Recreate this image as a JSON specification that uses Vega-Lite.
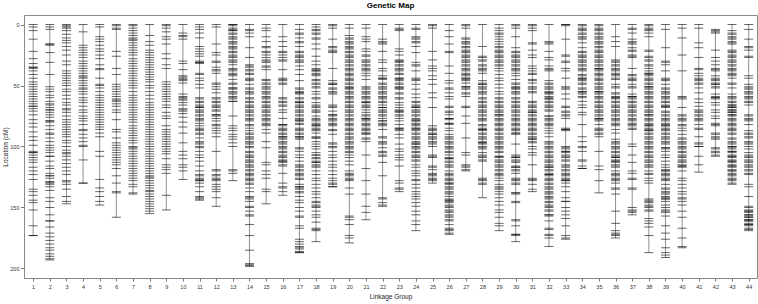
{
"$schema":"https://vega.github.io/schema/vega-lite/v6.json",
"width":733,"height":263,
"autosize":"none",
"padding":{"left":24,"top":15,"right":1,"bottom":26},
"title":{"text":"Genetic Map","fontSize":8,"fontWeight":"bold","font":"Liberation Sans","color":"#000","offset":5},
"data":{"values":[
{"g":1,"c":0},{"g":1,"c":2},{"g":1,"c":5},{"g":1,"c":12},{"g":1,"c":22},{"g":1,"c":28},{"g":1,"c":32},{"g":1,"c":35},{"g":1,"c":35},{"g":1,"c":36},{"g":1,"c":38},{"g":1,"c":41},{"g":1,"c":44},{"g":1,"c":47},{"g":1,"c":49},{"g":1,"c":51},{"g":1,"c":53},{"g":1,"c":55},{"g":1,"c":57},{"g":1,"c":59},{"g":1,"c":61},{"g":1,"c":63},{"g":1,"c":65},{"g":1,"c":67},{"g":1,"c":67},{"g":1,"c":69},{"g":1,"c":71},{"g":1,"c":74},{"g":1,"c":78},{"g":1,"c":81},{"g":1,"c":84},{"g":1,"c":88},{"g":1,"c":92},{"g":1,"c":95},{"g":1,"c":99},{"g":1,"c":104},{"g":1,"c":105},{"g":1,"c":105},{"g":1,"c":107},{"g":1,"c":109},{"g":1,"c":111},{"g":1,"c":113},{"g":1,"c":117},{"g":1,"c":120},{"g":1,"c":123},{"g":1,"c":127},{"g":1,"c":135},{"g":1,"c":137},{"g":1,"c":140},{"g":1,"c":144},{"g":1,"c":146},{"g":1,"c":152},{"g":1,"c":165},{"g":1,"c":173},{"g":1,"c":173},
{"g":2,"c":0},{"g":2,"c":2},{"g":2,"c":4},{"g":2,"c":16},{"g":2,"c":16},{"g":2,"c":17},{"g":2,"c":23},{"g":2,"c":31},{"g":2,"c":41},{"g":2,"c":51},{"g":2,"c":53},{"g":2,"c":55},{"g":2,"c":58},{"g":2,"c":60},{"g":2,"c":63},{"g":2,"c":65},{"g":2,"c":66},{"g":2,"c":68},{"g":2,"c":70},{"g":2,"c":70},{"g":2,"c":72},{"g":2,"c":74},{"g":2,"c":76},{"g":2,"c":79},{"g":2,"c":79},{"g":2,"c":80},{"g":2,"c":83},{"g":2,"c":86},{"g":2,"c":89},{"g":2,"c":90},{"g":2,"c":93},{"g":2,"c":96},{"g":2,"c":99},{"g":2,"c":101},{"g":2,"c":103},{"g":2,"c":105},{"g":2,"c":108},{"g":2,"c":108},{"g":2,"c":112},{"g":2,"c":116},{"g":2,"c":118},{"g":2,"c":122},{"g":2,"c":124},{"g":2,"c":124},{"g":2,"c":126},{"g":2,"c":129},{"g":2,"c":129},{"g":2,"c":130},{"g":2,"c":131},{"g":2,"c":133},{"g":2,"c":136},{"g":2,"c":142},{"g":2,"c":145},{"g":2,"c":150},{"g":2,"c":156},{"g":2,"c":161},{"g":2,"c":161},{"g":2,"c":166},{"g":2,"c":171},{"g":2,"c":174},{"g":2,"c":177},{"g":2,"c":180},{"g":2,"c":183},{"g":2,"c":185},{"g":2,"c":188},{"g":2,"c":190},{"g":2,"c":192},{"g":2,"c":193},
{"g":3,"c":0},{"g":3,"c":1},{"g":3,"c":2},{"g":3,"c":3},{"g":3,"c":5},{"g":3,"c":8},{"g":3,"c":11},{"g":3,"c":13},{"g":3,"c":15},{"g":3,"c":18},{"g":3,"c":21},{"g":3,"c":25},{"g":3,"c":30},{"g":3,"c":33},{"g":3,"c":38},{"g":3,"c":40},{"g":3,"c":42},{"g":3,"c":44},{"g":3,"c":46},{"g":3,"c":48},{"g":3,"c":50},{"g":3,"c":53},{"g":3,"c":55},{"g":3,"c":58},{"g":3,"c":61},{"g":3,"c":64},{"g":3,"c":66},{"g":3,"c":69},{"g":3,"c":70},{"g":3,"c":72},{"g":3,"c":75},{"g":3,"c":78},{"g":3,"c":80},{"g":3,"c":82},{"g":3,"c":84},{"g":3,"c":86},{"g":3,"c":88},{"g":3,"c":90},{"g":3,"c":92},{"g":3,"c":95},{"g":3,"c":97},{"g":3,"c":100},{"g":3,"c":103},{"g":3,"c":105},{"g":3,"c":106},{"g":3,"c":108},{"g":3,"c":111},{"g":3,"c":114},{"g":3,"c":117},{"g":3,"c":120},{"g":3,"c":123},{"g":3,"c":128},{"g":3,"c":129},{"g":3,"c":131},{"g":3,"c":135},{"g":3,"c":141},{"g":3,"c":145},{"g":3,"c":147},
{"g":4,"c":0},{"g":4,"c":6},{"g":4,"c":17},{"g":4,"c":19},{"g":4,"c":21},{"g":4,"c":23},{"g":4,"c":25},{"g":4,"c":27},{"g":4,"c":30},{"g":4,"c":32},{"g":4,"c":34},{"g":4,"c":36},{"g":4,"c":38},{"g":4,"c":40},{"g":4,"c":42},{"g":4,"c":43},{"g":4,"c":44},{"g":4,"c":46},{"g":4,"c":48},{"g":4,"c":50},{"g":4,"c":52},{"g":4,"c":53},{"g":4,"c":55},{"g":4,"c":57},{"g":4,"c":60},{"g":4,"c":62},{"g":4,"c":64},{"g":4,"c":67},{"g":4,"c":70},{"g":4,"c":72},{"g":4,"c":75},{"g":4,"c":77},{"g":4,"c":79},{"g":4,"c":82},{"g":4,"c":86},{"g":4,"c":87},{"g":4,"c":90},{"g":4,"c":93},{"g":4,"c":96},{"g":4,"c":99},{"g":4,"c":100},{"g":4,"c":111},{"g":4,"c":130},{"g":4,"c":130},
{"g":5,"c":0},{"g":5,"c":2},{"g":5,"c":10},{"g":5,"c":12},{"g":5,"c":14},{"g":5,"c":17},{"g":5,"c":20},{"g":5,"c":22},{"g":5,"c":25},{"g":5,"c":28},{"g":5,"c":33},{"g":5,"c":36},{"g":5,"c":37},{"g":5,"c":44},{"g":5,"c":49},{"g":5,"c":50},{"g":5,"c":52},{"g":5,"c":55},{"g":5,"c":58},{"g":5,"c":60},{"g":5,"c":62},{"g":5,"c":64},{"g":5,"c":66},{"g":5,"c":68},{"g":5,"c":70},{"g":5,"c":72},{"g":5,"c":74},{"g":5,"c":76},{"g":5,"c":78},{"g":5,"c":80},{"g":5,"c":82},{"g":5,"c":84},{"g":5,"c":86},{"g":5,"c":89},{"g":5,"c":92},{"g":5,"c":104},{"g":5,"c":108},{"g":5,"c":127},{"g":5,"c":134},{"g":5,"c":137},{"g":5,"c":141},{"g":5,"c":145},{"g":5,"c":148},
{"g":6,"c":0},{"g":6,"c":1},{"g":6,"c":3},{"g":6,"c":4},{"g":6,"c":22},{"g":6,"c":26},{"g":6,"c":36},{"g":6,"c":41},{"g":6,"c":49},{"g":6,"c":51},{"g":6,"c":53},{"g":6,"c":55},{"g":6,"c":57},{"g":6,"c":59},{"g":6,"c":61},{"g":6,"c":62},{"g":6,"c":63},{"g":6,"c":65},{"g":6,"c":67},{"g":6,"c":70},{"g":6,"c":72},{"g":6,"c":78},{"g":6,"c":86},{"g":6,"c":88},{"g":6,"c":93},{"g":6,"c":97},{"g":6,"c":99},{"g":6,"c":101},{"g":6,"c":103},{"g":6,"c":105},{"g":6,"c":107},{"g":6,"c":109},{"g":6,"c":111},{"g":6,"c":113},{"g":6,"c":115},{"g":6,"c":118},{"g":6,"c":124},{"g":6,"c":130},{"g":6,"c":137},{"g":6,"c":138},{"g":6,"c":158},
{"g":7,"c":0},{"g":7,"c":1},{"g":7,"c":3},{"g":7,"c":5},{"g":7,"c":7},{"g":7,"c":9},{"g":7,"c":11},{"g":7,"c":12},{"g":7,"c":13},{"g":7,"c":15},{"g":7,"c":17},{"g":7,"c":19},{"g":7,"c":21},{"g":7,"c":23},{"g":7,"c":25},{"g":7,"c":28},{"g":7,"c":30},{"g":7,"c":32},{"g":7,"c":34},{"g":7,"c":36},{"g":7,"c":38},{"g":7,"c":40},{"g":7,"c":42},{"g":7,"c":44},{"g":7,"c":46},{"g":7,"c":48},{"g":7,"c":50},{"g":7,"c":52},{"g":7,"c":55},{"g":7,"c":58},{"g":7,"c":60},{"g":7,"c":62},{"g":7,"c":64},{"g":7,"c":66},{"g":7,"c":68},{"g":7,"c":70},{"g":7,"c":72},{"g":7,"c":74},{"g":7,"c":76},{"g":7,"c":78},{"g":7,"c":80},{"g":7,"c":83},{"g":7,"c":85},{"g":7,"c":87},{"g":7,"c":89},{"g":7,"c":91},{"g":7,"c":93},{"g":7,"c":95},{"g":7,"c":97},{"g":7,"c":100},{"g":7,"c":101},{"g":7,"c":102},{"g":7,"c":104},{"g":7,"c":106},{"g":7,"c":108},{"g":7,"c":110},{"g":7,"c":112},{"g":7,"c":114},{"g":7,"c":116},{"g":7,"c":118},{"g":7,"c":120},{"g":7,"c":122},{"g":7,"c":124},{"g":7,"c":126},{"g":7,"c":128},{"g":7,"c":131},{"g":7,"c":133},{"g":7,"c":138},{"g":7,"c":139},
{"g":8,"c":0},{"g":8,"c":9},{"g":8,"c":14},{"g":8,"c":17},{"g":8,"c":21},{"g":8,"c":23},{"g":8,"c":25},{"g":8,"c":27},{"g":8,"c":29},{"g":8,"c":31},{"g":8,"c":33},{"g":8,"c":35},{"g":8,"c":37},{"g":8,"c":39},{"g":8,"c":41},{"g":8,"c":43},{"g":8,"c":45},{"g":8,"c":47},{"g":8,"c":50},{"g":8,"c":52},{"g":8,"c":55},{"g":8,"c":58},{"g":8,"c":61},{"g":8,"c":64},{"g":8,"c":66},{"g":8,"c":68},{"g":8,"c":70},{"g":8,"c":72},{"g":8,"c":74},{"g":8,"c":76},{"g":8,"c":78},{"g":8,"c":80},{"g":8,"c":82},{"g":8,"c":84},{"g":8,"c":86},{"g":8,"c":88},{"g":8,"c":90},{"g":8,"c":92},{"g":8,"c":94},{"g":8,"c":96},{"g":8,"c":98},{"g":8,"c":100},{"g":8,"c":102},{"g":8,"c":104},{"g":8,"c":106},{"g":8,"c":108},{"g":8,"c":110},{"g":8,"c":112},{"g":8,"c":114},{"g":8,"c":116},{"g":8,"c":118},{"g":8,"c":120},{"g":8,"c":122},{"g":8,"c":124},{"g":8,"c":125},{"g":8,"c":126},{"g":8,"c":128},{"g":8,"c":130},{"g":8,"c":132},{"g":8,"c":134},{"g":8,"c":136},{"g":8,"c":137},{"g":8,"c":139},{"g":8,"c":141},{"g":8,"c":143},{"g":8,"c":145},{"g":8,"c":147},{"g":8,"c":149},{"g":8,"c":151},{"g":8,"c":153},{"g":8,"c":155},
{"g":9,"c":0},{"g":9,"c":1},{"g":9,"c":3},{"g":9,"c":6},{"g":9,"c":10},{"g":9,"c":12},{"g":9,"c":16},{"g":9,"c":24},{"g":9,"c":28},{"g":9,"c":33},{"g":9,"c":36},{"g":9,"c":47},{"g":9,"c":49},{"g":9,"c":51},{"g":9,"c":53},{"g":9,"c":55},{"g":9,"c":57},{"g":9,"c":59},{"g":9,"c":61},{"g":9,"c":63},{"g":9,"c":66},{"g":9,"c":68},{"g":9,"c":72},{"g":9,"c":75},{"g":9,"c":77},{"g":9,"c":83},{"g":9,"c":86},{"g":9,"c":88},{"g":9,"c":90},{"g":9,"c":92},{"g":9,"c":94},{"g":9,"c":96},{"g":9,"c":98},{"g":9,"c":100},{"g":9,"c":102},{"g":9,"c":104},{"g":9,"c":106},{"g":9,"c":110},{"g":9,"c":115},{"g":9,"c":117},{"g":9,"c":119},{"g":9,"c":122},{"g":9,"c":140},{"g":9,"c":152},
{"g":10,"c":0},{"g":10,"c":7},{"g":10,"c":9},{"g":10,"c":10},{"g":10,"c":12},{"g":10,"c":30},{"g":10,"c":32},{"g":10,"c":37},{"g":10,"c":42},{"g":10,"c":43},{"g":10,"c":44},{"g":10,"c":45},{"g":10,"c":46},{"g":10,"c":48},{"g":10,"c":57},{"g":10,"c":59},{"g":10,"c":60},{"g":10,"c":61},{"g":10,"c":62},{"g":10,"c":64},{"g":10,"c":66},{"g":10,"c":69},{"g":10,"c":70},{"g":10,"c":71},{"g":10,"c":73},{"g":10,"c":76},{"g":10,"c":80},{"g":10,"c":84},{"g":10,"c":89},{"g":10,"c":97},{"g":10,"c":104},{"g":10,"c":107},{"g":10,"c":110},{"g":10,"c":115},{"g":10,"c":117},{"g":10,"c":120},{"g":10,"c":127},
{"g":11,"c":0},{"g":11,"c":2},{"g":11,"c":4},{"g":11,"c":7},{"g":11,"c":11},{"g":11,"c":18},{"g":11,"c":20},{"g":11,"c":22},{"g":11,"c":24},{"g":11,"c":26},{"g":11,"c":30},{"g":11,"c":31},{"g":11,"c":31},{"g":11,"c":32},{"g":11,"c":40},{"g":11,"c":41},{"g":11,"c":44},{"g":11,"c":46},{"g":11,"c":49},{"g":11,"c":52},{"g":11,"c":60},{"g":11,"c":61},{"g":11,"c":63},{"g":11,"c":64},{"g":11,"c":66},{"g":11,"c":67},{"g":11,"c":68},{"g":11,"c":68},{"g":11,"c":70},{"g":11,"c":71},{"g":11,"c":72},{"g":11,"c":74},{"g":11,"c":75},{"g":11,"c":77},{"g":11,"c":78},{"g":11,"c":79},{"g":11,"c":81},{"g":11,"c":83},{"g":11,"c":85},{"g":11,"c":86},{"g":11,"c":87},{"g":11,"c":89},{"g":11,"c":90},{"g":11,"c":93},{"g":11,"c":96},{"g":11,"c":97},{"g":11,"c":98},{"g":11,"c":100},{"g":11,"c":101},{"g":11,"c":104},{"g":11,"c":107},{"g":11,"c":109},{"g":11,"c":112},{"g":11,"c":116},{"g":11,"c":120},{"g":11,"c":123},{"g":11,"c":124},{"g":11,"c":126},{"g":11,"c":127},{"g":11,"c":128},{"g":11,"c":128},{"g":11,"c":130},{"g":11,"c":133},{"g":11,"c":137},{"g":11,"c":141},{"g":11,"c":142},{"g":11,"c":143},{"g":11,"c":144},
{"g":12,"c":0},{"g":12,"c":2},{"g":12,"c":16},{"g":12,"c":23},{"g":12,"c":25},{"g":12,"c":30},{"g":12,"c":31},{"g":12,"c":35},{"g":12,"c":37},{"g":12,"c":38},{"g":12,"c":40},{"g":12,"c":48},{"g":12,"c":49},{"g":12,"c":51},{"g":12,"c":53},{"g":12,"c":56},{"g":12,"c":60},{"g":12,"c":61},{"g":12,"c":63},{"g":12,"c":64},{"g":12,"c":66},{"g":12,"c":67},{"g":12,"c":68},{"g":12,"c":70},{"g":12,"c":71},{"g":12,"c":74},{"g":12,"c":74},{"g":12,"c":75},{"g":12,"c":77},{"g":12,"c":79},{"g":12,"c":82},{"g":12,"c":83},{"g":12,"c":85},{"g":12,"c":87},{"g":12,"c":89},{"g":12,"c":92},{"g":12,"c":104},{"g":12,"c":119},{"g":12,"c":120},{"g":12,"c":123},{"g":12,"c":124},{"g":12,"c":126},{"g":12,"c":127},{"g":12,"c":128},{"g":12,"c":131},{"g":12,"c":133},{"g":12,"c":135},{"g":12,"c":137},{"g":12,"c":142},{"g":12,"c":149},
{"g":13,"c":0},{"g":13,"c":0},{"g":13,"c":1},{"g":13,"c":3},{"g":13,"c":4},{"g":13,"c":5},{"g":13,"c":5},{"g":13,"c":7},{"g":13,"c":8},{"g":13,"c":10},{"g":13,"c":11},{"g":13,"c":12},{"g":13,"c":14},{"g":13,"c":15},{"g":13,"c":16},{"g":13,"c":18},{"g":13,"c":19},{"g":13,"c":20},{"g":13,"c":22},{"g":13,"c":23},{"g":13,"c":25},{"g":13,"c":26},{"g":13,"c":27},{"g":13,"c":29},{"g":13,"c":30},{"g":13,"c":31},{"g":13,"c":33},{"g":13,"c":36},{"g":13,"c":37},{"g":13,"c":38},{"g":13,"c":40},{"g":13,"c":41},{"g":13,"c":42},{"g":13,"c":45},{"g":13,"c":48},{"g":13,"c":49},{"g":13,"c":52},{"g":13,"c":52},{"g":13,"c":53},{"g":13,"c":55},{"g":13,"c":56},{"g":13,"c":57},{"g":13,"c":59},{"g":13,"c":60},{"g":13,"c":61},{"g":13,"c":63},{"g":13,"c":63},{"g":13,"c":75},{"g":13,"c":83},{"g":13,"c":85},{"g":13,"c":87},{"g":13,"c":90},{"g":13,"c":92},{"g":13,"c":94},{"g":13,"c":97},{"g":13,"c":100},{"g":13,"c":119},{"g":13,"c":120},{"g":13,"c":122},{"g":13,"c":128},
{"g":14,"c":0},{"g":14,"c":4},{"g":14,"c":5},{"g":14,"c":7},{"g":14,"c":10},{"g":14,"c":19},{"g":14,"c":27},{"g":14,"c":33},{"g":14,"c":34},{"g":14,"c":35},{"g":14,"c":37},{"g":14,"c":38},{"g":14,"c":40},{"g":14,"c":41},{"g":14,"c":44},{"g":14,"c":45},{"g":14,"c":46},{"g":14,"c":49},{"g":14,"c":52},{"g":14,"c":53},{"g":14,"c":55},{"g":14,"c":56},{"g":14,"c":57},{"g":14,"c":60},{"g":14,"c":61},{"g":14,"c":63},{"g":14,"c":64},{"g":14,"c":66},{"g":14,"c":67},{"g":14,"c":68},{"g":14,"c":70},{"g":14,"c":71},{"g":14,"c":72},{"g":14,"c":74},{"g":14,"c":75},{"g":14,"c":77},{"g":14,"c":78},{"g":14,"c":79},{"g":14,"c":82},{"g":14,"c":83},{"g":14,"c":85},{"g":14,"c":87},{"g":14,"c":89},{"g":14,"c":90},{"g":14,"c":92},{"g":14,"c":93},{"g":14,"c":94},{"g":14,"c":96},{"g":14,"c":97},{"g":14,"c":98},{"g":14,"c":100},{"g":14,"c":101},{"g":14,"c":104},{"g":14,"c":105},{"g":14,"c":107},{"g":14,"c":108},{"g":14,"c":109},{"g":14,"c":111},{"g":14,"c":112},{"g":14,"c":113},{"g":14,"c":115},{"g":14,"c":116},{"g":14,"c":117},{"g":14,"c":119},{"g":14,"c":120},{"g":14,"c":122},{"g":14,"c":123},{"g":14,"c":124},{"g":14,"c":126},{"g":14,"c":127},{"g":14,"c":128},{"g":14,"c":130},{"g":14,"c":131},{"g":14,"c":134},{"g":14,"c":137},{"g":14,"c":141},{"g":14,"c":142},{"g":14,"c":143},{"g":14,"c":145},{"g":14,"c":149},{"g":14,"c":150},{"g":14,"c":153},{"g":14,"c":156},{"g":14,"c":157},{"g":14,"c":164},{"g":14,"c":173},{"g":14,"c":185},{"g":14,"c":196},{"g":14,"c":197},{"g":14,"c":198},{"g":14,"c":198},
{"g":15,"c":0},{"g":15,"c":3},{"g":15,"c":5},{"g":15,"c":10},{"g":15,"c":14},{"g":15,"c":18},{"g":15,"c":19},{"g":15,"c":22},{"g":15,"c":23},{"g":15,"c":25},{"g":15,"c":27},{"g":15,"c":29},{"g":15,"c":30},{"g":15,"c":31},{"g":15,"c":34},{"g":15,"c":35},{"g":15,"c":37},{"g":15,"c":45},{"g":15,"c":46},{"g":15,"c":48},{"g":15,"c":49},{"g":15,"c":51},{"g":15,"c":52},{"g":15,"c":53},{"g":15,"c":55},{"g":15,"c":56},{"g":15,"c":57},{"g":15,"c":59},{"g":15,"c":60},{"g":15,"c":61},{"g":15,"c":63},{"g":15,"c":64},{"g":15,"c":66},{"g":15,"c":67},{"g":15,"c":68},{"g":15,"c":70},{"g":15,"c":71},{"g":15,"c":72},{"g":15,"c":74},{"g":15,"c":75},{"g":15,"c":77},{"g":15,"c":78},{"g":15,"c":79},{"g":15,"c":81},{"g":15,"c":82},{"g":15,"c":83},{"g":15,"c":86},{"g":15,"c":89},{"g":15,"c":96},{"g":15,"c":101},{"g":15,"c":113},{"g":15,"c":115},{"g":15,"c":120},{"g":15,"c":123},{"g":15,"c":126},{"g":15,"c":135},{"g":15,"c":137},{"g":15,"c":147},
{"g":16,"c":0},{"g":16,"c":10},{"g":16,"c":14},{"g":16,"c":18},{"g":16,"c":22},{"g":16,"c":23},{"g":16,"c":25},{"g":16,"c":27},{"g":16,"c":29},{"g":16,"c":30},{"g":16,"c":37},{"g":16,"c":44},{"g":16,"c":45},{"g":16,"c":46},{"g":16,"c":48},{"g":16,"c":49},{"g":16,"c":60},{"g":16,"c":61},{"g":16,"c":63},{"g":16,"c":64},{"g":16,"c":66},{"g":16,"c":67},{"g":16,"c":70},{"g":16,"c":72},{"g":16,"c":77},{"g":16,"c":82},{"g":16,"c":82},{"g":16,"c":83},{"g":16,"c":85},{"g":16,"c":86},{"g":16,"c":87},{"g":16,"c":89},{"g":16,"c":90},{"g":16,"c":92},{"g":16,"c":92},{"g":16,"c":93},{"g":16,"c":94},{"g":16,"c":96},{"g":16,"c":97},{"g":16,"c":98},{"g":16,"c":100},{"g":16,"c":101},{"g":16,"c":102},{"g":16,"c":104},{"g":16,"c":105},{"g":16,"c":107},{"g":16,"c":108},{"g":16,"c":109},{"g":16,"c":111},{"g":16,"c":112},{"g":16,"c":112},{"g":16,"c":113},{"g":16,"c":115},{"g":16,"c":116},{"g":16,"c":122},{"g":16,"c":130},{"g":16,"c":133},{"g":16,"c":134},{"g":16,"c":137},{"g":16,"c":140},
{"g":17,"c":0},{"g":17,"c":4},{"g":17,"c":7},{"g":17,"c":8},{"g":17,"c":11},{"g":17,"c":14},{"g":17,"c":15},{"g":17,"c":18},{"g":17,"c":22},{"g":17,"c":23},{"g":17,"c":25},{"g":17,"c":26},{"g":17,"c":27},{"g":17,"c":29},{"g":17,"c":30},{"g":17,"c":31},{"g":17,"c":34},{"g":17,"c":37},{"g":17,"c":41},{"g":17,"c":46},{"g":17,"c":52},{"g":17,"c":53},{"g":17,"c":55},{"g":17,"c":56},{"g":17,"c":56},{"g":17,"c":57},{"g":17,"c":60},{"g":17,"c":61},{"g":17,"c":63},{"g":17,"c":64},{"g":17,"c":64},{"g":17,"c":66},{"g":17,"c":67},{"g":17,"c":68},{"g":17,"c":70},{"g":17,"c":71},{"g":17,"c":72},{"g":17,"c":74},{"g":17,"c":75},{"g":17,"c":77},{"g":17,"c":78},{"g":17,"c":79},{"g":17,"c":79},{"g":17,"c":81},{"g":17,"c":82},{"g":17,"c":85},{"g":17,"c":86},{"g":17,"c":87},{"g":17,"c":89},{"g":17,"c":90},{"g":17,"c":92},{"g":17,"c":92},{"g":17,"c":93},{"g":17,"c":94},{"g":17,"c":101},{"g":17,"c":102},{"g":17,"c":104},{"g":17,"c":107},{"g":17,"c":109},{"g":17,"c":112},{"g":17,"c":115},{"g":17,"c":116},{"g":17,"c":117},{"g":17,"c":119},{"g":17,"c":120},{"g":17,"c":122},{"g":17,"c":123},{"g":17,"c":124},{"g":17,"c":126},{"g":17,"c":127},{"g":17,"c":131},{"g":17,"c":133},{"g":17,"c":133},{"g":17,"c":134},{"g":17,"c":135},{"g":17,"c":137},{"g":17,"c":138},{"g":17,"c":141},{"g":17,"c":144},{"g":17,"c":146},{"g":17,"c":150},{"g":17,"c":153},{"g":17,"c":157},{"g":17,"c":158},{"g":17,"c":165},{"g":17,"c":167},{"g":17,"c":176},{"g":17,"c":178},{"g":17,"c":180},{"g":17,"c":182},{"g":17,"c":183},{"g":17,"c":184},{"g":17,"c":186},{"g":17,"c":187},{"g":17,"c":187},
{"g":18,"c":0},{"g":18,"c":2},{"g":18,"c":4},{"g":18,"c":5},{"g":18,"c":7},{"g":18,"c":8},{"g":18,"c":11},{"g":18,"c":12},{"g":18,"c":16},{"g":18,"c":20},{"g":18,"c":26},{"g":18,"c":30},{"g":18,"c":33},{"g":18,"c":36},{"g":18,"c":37},{"g":18,"c":38},{"g":18,"c":38},{"g":18,"c":40},{"g":18,"c":41},{"g":18,"c":42},{"g":18,"c":45},{"g":18,"c":46},{"g":18,"c":48},{"g":18,"c":49},{"g":18,"c":51},{"g":18,"c":52},{"g":18,"c":55},{"g":18,"c":57},{"g":18,"c":60},{"g":18,"c":61},{"g":18,"c":64},{"g":18,"c":66},{"g":18,"c":67},{"g":18,"c":68},{"g":18,"c":70},{"g":18,"c":71},{"g":18,"c":72},{"g":18,"c":75},{"g":18,"c":77},{"g":18,"c":78},{"g":18,"c":79},{"g":18,"c":81},{"g":18,"c":82},{"g":18,"c":83},{"g":18,"c":83},{"g":18,"c":85},{"g":18,"c":86},{"g":18,"c":87},{"g":18,"c":89},{"g":18,"c":92},{"g":18,"c":93},{"g":18,"c":93},{"g":18,"c":96},{"g":18,"c":98},{"g":18,"c":100},{"g":18,"c":102},{"g":18,"c":105},{"g":18,"c":107},{"g":18,"c":107},{"g":18,"c":109},{"g":18,"c":110},{"g":18,"c":112},{"g":18,"c":113},{"g":18,"c":113},{"g":18,"c":115},{"g":18,"c":116},{"g":18,"c":117},{"g":18,"c":120},{"g":18,"c":123},{"g":18,"c":126},{"g":18,"c":128},{"g":18,"c":131},{"g":18,"c":134},{"g":18,"c":137},{"g":18,"c":139},{"g":18,"c":142},{"g":18,"c":145},{"g":18,"c":146},{"g":18,"c":148},{"g":18,"c":149},{"g":18,"c":150},{"g":18,"c":153},{"g":18,"c":156},{"g":18,"c":158},{"g":18,"c":162},{"g":18,"c":167},{"g":18,"c":168},{"g":18,"c":169},{"g":18,"c":178},
{"g":19,"c":0},{"g":19,"c":1},{"g":19,"c":3},{"g":19,"c":12},{"g":19,"c":18},{"g":19,"c":19},{"g":19,"c":21},{"g":19,"c":22},{"g":19,"c":23},{"g":19,"c":36},{"g":19,"c":46},{"g":19,"c":48},{"g":19,"c":49},{"g":19,"c":49},{"g":19,"c":52},{"g":19,"c":53},{"g":19,"c":55},{"g":19,"c":56},{"g":19,"c":57},{"g":19,"c":66},{"g":19,"c":67},{"g":19,"c":68},{"g":19,"c":71},{"g":19,"c":74},{"g":19,"c":74},{"g":19,"c":75},{"g":19,"c":77},{"g":19,"c":78},{"g":19,"c":79},{"g":19,"c":81},{"g":19,"c":82},{"g":19,"c":83},{"g":19,"c":86},{"g":19,"c":87},{"g":19,"c":90},{"g":19,"c":97},{"g":19,"c":98},{"g":19,"c":100},{"g":19,"c":101},{"g":19,"c":104},{"g":19,"c":107},{"g":19,"c":109},{"g":19,"c":112},{"g":19,"c":115},{"g":19,"c":117},{"g":19,"c":120},{"g":19,"c":123},{"g":19,"c":126},{"g":19,"c":128},{"g":19,"c":130},{"g":19,"c":131},{"g":19,"c":133},{"g":19,"c":133},
{"g":20,"c":0},{"g":20,"c":3},{"g":20,"c":9},{"g":20,"c":11},{"g":20,"c":12},{"g":20,"c":14},{"g":20,"c":15},{"g":20,"c":16},{"g":20,"c":18},{"g":20,"c":19},{"g":20,"c":20},{"g":20,"c":22},{"g":20,"c":23},{"g":20,"c":25},{"g":20,"c":26},{"g":20,"c":27},{"g":20,"c":29},{"g":20,"c":30},{"g":20,"c":31},{"g":20,"c":33},{"g":20,"c":34},{"g":20,"c":36},{"g":20,"c":37},{"g":20,"c":38},{"g":20,"c":40},{"g":20,"c":41},{"g":20,"c":42},{"g":20,"c":44},{"g":20,"c":45},{"g":20,"c":46},{"g":20,"c":48},{"g":20,"c":49},{"g":20,"c":51},{"g":20,"c":52},{"g":20,"c":52},{"g":20,"c":53},{"g":20,"c":55},{"g":20,"c":56},{"g":20,"c":57},{"g":20,"c":59},{"g":20,"c":60},{"g":20,"c":61},{"g":20,"c":63},{"g":20,"c":64},{"g":20,"c":66},{"g":20,"c":67},{"g":20,"c":68},{"g":20,"c":70},{"g":20,"c":71},{"g":20,"c":72},{"g":20,"c":74},{"g":20,"c":75},{"g":20,"c":77},{"g":20,"c":78},{"g":20,"c":79},{"g":20,"c":81},{"g":20,"c":82},{"g":20,"c":83},{"g":20,"c":85},{"g":20,"c":86},{"g":20,"c":87},{"g":20,"c":89},{"g":20,"c":90},{"g":20,"c":92},{"g":20,"c":93},{"g":20,"c":94},{"g":20,"c":96},{"g":20,"c":97},{"g":20,"c":98},{"g":20,"c":100},{"g":20,"c":101},{"g":20,"c":102},{"g":20,"c":104},{"g":20,"c":105},{"g":20,"c":107},{"g":20,"c":109},{"g":20,"c":112},{"g":20,"c":115},{"g":20,"c":120},{"g":20,"c":122},{"g":20,"c":123},{"g":20,"c":124},{"g":20,"c":126},{"g":20,"c":127},{"g":20,"c":128},{"g":20,"c":134},{"g":20,"c":139},{"g":20,"c":157},{"g":20,"c":158},{"g":20,"c":160},{"g":20,"c":164},{"g":20,"c":173},{"g":20,"c":175},{"g":20,"c":179},
{"g":21,"c":0},{"g":21,"c":3},{"g":21,"c":10},{"g":21,"c":12},{"g":21,"c":14},{"g":21,"c":20},{"g":21,"c":22},{"g":21,"c":25},{"g":21,"c":26},{"g":21,"c":29},{"g":21,"c":30},{"g":21,"c":31},{"g":21,"c":33},{"g":21,"c":34},{"g":21,"c":36},{"g":21,"c":37},{"g":21,"c":38},{"g":21,"c":40},{"g":21,"c":42},{"g":21,"c":45},{"g":21,"c":51},{"g":21,"c":52},{"g":21,"c":53},{"g":21,"c":55},{"g":21,"c":56},{"g":21,"c":57},{"g":21,"c":59},{"g":21,"c":60},{"g":21,"c":61},{"g":21,"c":63},{"g":21,"c":64},{"g":21,"c":64},{"g":21,"c":66},{"g":21,"c":67},{"g":21,"c":68},{"g":21,"c":70},{"g":21,"c":72},{"g":21,"c":74},{"g":21,"c":75},{"g":21,"c":77},{"g":21,"c":77},{"g":21,"c":78},{"g":21,"c":79},{"g":21,"c":81},{"g":21,"c":82},{"g":21,"c":83},{"g":21,"c":85},{"g":21,"c":86},{"g":21,"c":87},{"g":21,"c":89},{"g":21,"c":89},{"g":21,"c":90},{"g":21,"c":93},{"g":21,"c":94},{"g":21,"c":96},{"g":21,"c":107},{"g":21,"c":118},{"g":21,"c":128},{"g":21,"c":139},{"g":21,"c":149},{"g":21,"c":154},{"g":21,"c":160},
{"g":22,"c":0},{"g":22,"c":12},{"g":22,"c":14},{"g":22,"c":15},{"g":22,"c":16},{"g":22,"c":22},{"g":22,"c":29},{"g":22,"c":31},{"g":22,"c":36},{"g":22,"c":38},{"g":22,"c":42},{"g":22,"c":44},{"g":22,"c":44},{"g":22,"c":45},{"g":22,"c":48},{"g":22,"c":49},{"g":22,"c":51},{"g":22,"c":52},{"g":22,"c":53},{"g":22,"c":55},{"g":22,"c":56},{"g":22,"c":57},{"g":22,"c":59},{"g":22,"c":60},{"g":22,"c":61},{"g":22,"c":63},{"g":22,"c":64},{"g":22,"c":66},{"g":22,"c":68},{"g":22,"c":68},{"g":22,"c":70},{"g":22,"c":71},{"g":22,"c":72},{"g":22,"c":74},{"g":22,"c":75},{"g":22,"c":77},{"g":22,"c":79},{"g":22,"c":79},{"g":22,"c":81},{"g":22,"c":82},{"g":22,"c":83},{"g":22,"c":86},{"g":22,"c":92},{"g":22,"c":93},{"g":22,"c":96},{"g":22,"c":97},{"g":22,"c":98},{"g":22,"c":101},{"g":22,"c":104},{"g":22,"c":105},{"g":22,"c":107},{"g":22,"c":108},{"g":22,"c":113},{"g":22,"c":124},{"g":22,"c":142},{"g":22,"c":143},{"g":22,"c":146},{"g":22,"c":148},{"g":22,"c":149},
{"g":23,"c":0},{"g":23,"c":3},{"g":23,"c":4},{"g":23,"c":5},{"g":23,"c":20},{"g":23,"c":22},{"g":23,"c":25},{"g":23,"c":29},{"g":23,"c":30},{"g":23,"c":30},{"g":23,"c":31},{"g":23,"c":33},{"g":23,"c":34},{"g":23,"c":36},{"g":23,"c":37},{"g":23,"c":38},{"g":23,"c":40},{"g":23,"c":41},{"g":23,"c":44},{"g":23,"c":44},{"g":23,"c":45},{"g":23,"c":46},{"g":23,"c":48},{"g":23,"c":49},{"g":23,"c":51},{"g":23,"c":52},{"g":23,"c":52},{"g":23,"c":53},{"g":23,"c":56},{"g":23,"c":57},{"g":23,"c":60},{"g":23,"c":61},{"g":23,"c":64},{"g":23,"c":66},{"g":23,"c":68},{"g":23,"c":70},{"g":23,"c":71},{"g":23,"c":71},{"g":23,"c":72},{"g":23,"c":74},{"g":23,"c":75},{"g":23,"c":77},{"g":23,"c":79},{"g":23,"c":82},{"g":23,"c":85},{"g":23,"c":85},{"g":23,"c":86},{"g":23,"c":87},{"g":23,"c":90},{"g":23,"c":93},{"g":23,"c":98},{"g":23,"c":102},{"g":23,"c":104},{"g":23,"c":107},{"g":23,"c":109},{"g":23,"c":111},{"g":23,"c":116},{"g":23,"c":128},{"g":23,"c":130},{"g":23,"c":134},{"g":23,"c":135},{"g":23,"c":137},
{"g":24,"c":0},{"g":24,"c":3},{"g":24,"c":4},{"g":24,"c":10},{"g":24,"c":11},{"g":24,"c":12},{"g":24,"c":14},{"g":24,"c":15},{"g":24,"c":18},{"g":24,"c":23},{"g":24,"c":31},{"g":24,"c":33},{"g":24,"c":34},{"g":24,"c":38},{"g":24,"c":44},{"g":24,"c":45},{"g":24,"c":46},{"g":24,"c":49},{"g":24,"c":53},{"g":24,"c":57},{"g":24,"c":60},{"g":24,"c":63},{"g":24,"c":64},{"g":24,"c":66},{"g":24,"c":67},{"g":24,"c":68},{"g":24,"c":68},{"g":24,"c":70},{"g":24,"c":71},{"g":24,"c":72},{"g":24,"c":74},{"g":24,"c":75},{"g":24,"c":77},{"g":24,"c":78},{"g":24,"c":79},{"g":24,"c":79},{"g":24,"c":81},{"g":24,"c":82},{"g":24,"c":83},{"g":24,"c":85},{"g":24,"c":85},{"g":24,"c":86},{"g":24,"c":87},{"g":24,"c":89},{"g":24,"c":90},{"g":24,"c":92},{"g":24,"c":93},{"g":24,"c":94},{"g":24,"c":96},{"g":24,"c":97},{"g":24,"c":98},{"g":24,"c":98},{"g":24,"c":100},{"g":24,"c":101},{"g":24,"c":102},{"g":24,"c":104},{"g":24,"c":105},{"g":24,"c":107},{"g":24,"c":108},{"g":24,"c":109},{"g":24,"c":111},{"g":24,"c":112},{"g":24,"c":115},{"g":24,"c":117},{"g":24,"c":120},{"g":24,"c":122},{"g":24,"c":124},{"g":24,"c":127},{"g":24,"c":128},{"g":24,"c":131},{"g":24,"c":134},{"g":24,"c":137},{"g":24,"c":139},{"g":24,"c":141},{"g":24,"c":143},{"g":24,"c":146},{"g":24,"c":149},{"g":24,"c":153},{"g":24,"c":156},{"g":24,"c":161},{"g":24,"c":164},{"g":24,"c":169},
{"g":25,"c":0},{"g":25,"c":1},{"g":25,"c":3},{"g":25,"c":22},{"g":25,"c":29},{"g":25,"c":34},{"g":25,"c":36},{"g":25,"c":38},{"g":25,"c":42},{"g":25,"c":45},{"g":25,"c":49},{"g":25,"c":56},{"g":25,"c":60},{"g":25,"c":68},{"g":25,"c":83},{"g":25,"c":85},{"g":25,"c":86},{"g":25,"c":87},{"g":25,"c":89},{"g":25,"c":90},{"g":25,"c":90},{"g":25,"c":92},{"g":25,"c":93},{"g":25,"c":94},{"g":25,"c":96},{"g":25,"c":97},{"g":25,"c":98},{"g":25,"c":100},{"g":25,"c":107},{"g":25,"c":108},{"g":25,"c":109},{"g":25,"c":116},{"g":25,"c":117},{"g":25,"c":119},{"g":25,"c":122},{"g":25,"c":123},{"g":25,"c":124},{"g":25,"c":126},{"g":25,"c":127},{"g":25,"c":128},{"g":25,"c":130},
{"g":26,"c":0},{"g":26,"c":5},{"g":26,"c":10},{"g":26,"c":16},{"g":26,"c":22},{"g":26,"c":23},{"g":26,"c":34},{"g":26,"c":40},{"g":26,"c":46},{"g":26,"c":48},{"g":26,"c":52},{"g":26,"c":53},{"g":26,"c":56},{"g":26,"c":59},{"g":26,"c":61},{"g":26,"c":67},{"g":26,"c":68},{"g":26,"c":71},{"g":26,"c":72},{"g":26,"c":74},{"g":26,"c":77},{"g":26,"c":77},{"g":26,"c":78},{"g":26,"c":81},{"g":26,"c":81},{"g":26,"c":82},{"g":26,"c":85},{"g":26,"c":87},{"g":26,"c":90},{"g":26,"c":92},{"g":26,"c":93},{"g":26,"c":94},{"g":26,"c":96},{"g":26,"c":97},{"g":26,"c":98},{"g":26,"c":100},{"g":26,"c":101},{"g":26,"c":102},{"g":26,"c":104},{"g":26,"c":105},{"g":26,"c":107},{"g":26,"c":109},{"g":26,"c":110},{"g":26,"c":110},{"g":26,"c":112},{"g":26,"c":113},{"g":26,"c":115},{"g":26,"c":116},{"g":26,"c":117},{"g":26,"c":120},{"g":26,"c":122},{"g":26,"c":123},{"g":26,"c":124},{"g":26,"c":126},{"g":26,"c":127},{"g":26,"c":128},{"g":26,"c":130},{"g":26,"c":130},{"g":26,"c":131},{"g":26,"c":133},{"g":26,"c":134},{"g":26,"c":135},{"g":26,"c":137},{"g":26,"c":138},{"g":26,"c":139},{"g":26,"c":141},{"g":26,"c":143},{"g":26,"c":144},{"g":26,"c":144},{"g":26,"c":145},{"g":26,"c":146},{"g":26,"c":148},{"g":26,"c":149},{"g":26,"c":150},{"g":26,"c":152},{"g":26,"c":153},{"g":26,"c":154},{"g":26,"c":156},{"g":26,"c":157},{"g":26,"c":158},{"g":26,"c":160},{"g":26,"c":161},{"g":26,"c":164},{"g":26,"c":167},{"g":26,"c":168},{"g":26,"c":169},{"g":26,"c":171},{"g":26,"c":172},
{"g":27,"c":0},{"g":27,"c":1},{"g":27,"c":3},{"g":27,"c":11},{"g":27,"c":12},{"g":27,"c":14},{"g":27,"c":15},{"g":27,"c":16},{"g":27,"c":18},{"g":27,"c":19},{"g":27,"c":21},{"g":27,"c":22},{"g":27,"c":23},{"g":27,"c":25},{"g":27,"c":26},{"g":27,"c":27},{"g":27,"c":29},{"g":27,"c":30},{"g":27,"c":31},{"g":27,"c":33},{"g":27,"c":34},{"g":27,"c":36},{"g":27,"c":37},{"g":27,"c":38},{"g":27,"c":40},{"g":27,"c":41},{"g":27,"c":42},{"g":27,"c":44},{"g":27,"c":44},{"g":27,"c":45},{"g":27,"c":46},{"g":27,"c":48},{"g":27,"c":51},{"g":27,"c":51},{"g":27,"c":52},{"g":27,"c":53},{"g":27,"c":56},{"g":27,"c":57},{"g":27,"c":59},{"g":27,"c":67},{"g":27,"c":68},{"g":27,"c":75},{"g":27,"c":81},{"g":27,"c":93},{"g":27,"c":105},{"g":27,"c":107},{"g":27,"c":115},{"g":27,"c":116},{"g":27,"c":117},{"g":27,"c":119},{"g":27,"c":120},
{"g":28,"c":0},{"g":28,"c":18},{"g":28,"c":26},{"g":28,"c":27},{"g":28,"c":29},{"g":28,"c":30},{"g":28,"c":33},{"g":28,"c":34},{"g":28,"c":36},{"g":28,"c":37},{"g":28,"c":38},{"g":28,"c":40},{"g":28,"c":46},{"g":28,"c":48},{"g":28,"c":49},{"g":28,"c":49},{"g":28,"c":51},{"g":28,"c":52},{"g":28,"c":53},{"g":28,"c":55},{"g":28,"c":56},{"g":28,"c":57},{"g":28,"c":60},{"g":28,"c":61},{"g":28,"c":63},{"g":28,"c":64},{"g":28,"c":66},{"g":28,"c":67},{"g":28,"c":68},{"g":28,"c":70},{"g":28,"c":71},{"g":28,"c":72},{"g":28,"c":74},{"g":28,"c":75},{"g":28,"c":77},{"g":28,"c":78},{"g":28,"c":79},{"g":28,"c":82},{"g":28,"c":83},{"g":28,"c":85},{"g":28,"c":86},{"g":28,"c":86},{"g":28,"c":87},{"g":28,"c":89},{"g":28,"c":90},{"g":28,"c":92},{"g":28,"c":93},{"g":28,"c":94},{"g":28,"c":96},{"g":28,"c":97},{"g":28,"c":97},{"g":28,"c":98},{"g":28,"c":100},{"g":28,"c":101},{"g":28,"c":102},{"g":28,"c":105},{"g":28,"c":107},{"g":28,"c":108},{"g":28,"c":109},{"g":28,"c":111},{"g":28,"c":112},{"g":28,"c":126},{"g":28,"c":127},{"g":28,"c":128},{"g":28,"c":130},{"g":28,"c":131},{"g":28,"c":142},
{"g":29,"c":0},{"g":29,"c":3},{"g":29,"c":5},{"g":29,"c":7},{"g":29,"c":8},{"g":29,"c":10},{"g":29,"c":12},{"g":29,"c":14},{"g":29,"c":16},{"g":29,"c":18},{"g":29,"c":19},{"g":29,"c":21},{"g":29,"c":22},{"g":29,"c":23},{"g":29,"c":25},{"g":29,"c":26},{"g":29,"c":27},{"g":29,"c":29},{"g":29,"c":30},{"g":29,"c":31},{"g":29,"c":33},{"g":29,"c":34},{"g":29,"c":36},{"g":29,"c":38},{"g":29,"c":41},{"g":29,"c":44},{"g":29,"c":46},{"g":29,"c":49},{"g":29,"c":52},{"g":29,"c":55},{"g":29,"c":57},{"g":29,"c":60},{"g":29,"c":61},{"g":29,"c":63},{"g":29,"c":64},{"g":29,"c":66},{"g":29,"c":67},{"g":29,"c":68},{"g":29,"c":70},{"g":29,"c":71},{"g":29,"c":72},{"g":29,"c":74},{"g":29,"c":74},{"g":29,"c":75},{"g":29,"c":77},{"g":29,"c":78},{"g":29,"c":79},{"g":29,"c":81},{"g":29,"c":82},{"g":29,"c":83},{"g":29,"c":85},{"g":29,"c":86},{"g":29,"c":87},{"g":29,"c":89},{"g":29,"c":90},{"g":29,"c":92},{"g":29,"c":93},{"g":29,"c":94},{"g":29,"c":96},{"g":29,"c":97},{"g":29,"c":98},{"g":29,"c":100},{"g":29,"c":101},{"g":29,"c":102},{"g":29,"c":104},{"g":29,"c":105},{"g":29,"c":108},{"g":29,"c":108},{"g":29,"c":109},{"g":29,"c":111},{"g":29,"c":112},{"g":29,"c":113},{"g":29,"c":115},{"g":29,"c":116},{"g":29,"c":117},{"g":29,"c":119},{"g":29,"c":120},{"g":29,"c":122},{"g":29,"c":123},{"g":29,"c":124},{"g":29,"c":126},{"g":29,"c":128},{"g":29,"c":131},{"g":29,"c":133},{"g":29,"c":134},{"g":29,"c":135},{"g":29,"c":137},{"g":29,"c":139},{"g":29,"c":142},{"g":29,"c":145},{"g":29,"c":148},{"g":29,"c":152},{"g":29,"c":154},{"g":29,"c":158},{"g":29,"c":163},{"g":29,"c":165},{"g":29,"c":169},
{"g":30,"c":0},{"g":30,"c":1},{"g":30,"c":3},{"g":30,"c":10},{"g":30,"c":19},{"g":30,"c":22},{"g":30,"c":23},{"g":30,"c":25},{"g":30,"c":26},{"g":30,"c":27},{"g":30,"c":29},{"g":30,"c":30},{"g":30,"c":31},{"g":30,"c":33},{"g":30,"c":34},{"g":30,"c":36},{"g":30,"c":37},{"g":30,"c":38},{"g":30,"c":40},{"g":30,"c":42},{"g":30,"c":45},{"g":30,"c":48},{"g":30,"c":49},{"g":30,"c":51},{"g":30,"c":52},{"g":30,"c":52},{"g":30,"c":53},{"g":30,"c":55},{"g":30,"c":56},{"g":30,"c":57},{"g":30,"c":60},{"g":30,"c":61},{"g":30,"c":63},{"g":30,"c":64},{"g":30,"c":66},{"g":30,"c":67},{"g":30,"c":68},{"g":30,"c":70},{"g":30,"c":71},{"g":30,"c":72},{"g":30,"c":74},{"g":30,"c":75},{"g":30,"c":77},{"g":30,"c":78},{"g":30,"c":79},{"g":30,"c":81},{"g":30,"c":82},{"g":30,"c":83},{"g":30,"c":85},{"g":30,"c":86},{"g":30,"c":87},{"g":30,"c":89},{"g":30,"c":89},{"g":30,"c":90},{"g":30,"c":98},{"g":30,"c":107},{"g":30,"c":108},{"g":30,"c":109},{"g":30,"c":109},{"g":30,"c":111},{"g":30,"c":112},{"g":30,"c":113},{"g":30,"c":116},{"g":30,"c":117},{"g":30,"c":117},{"g":30,"c":119},{"g":30,"c":120},{"g":30,"c":122},{"g":30,"c":126},{"g":30,"c":127},{"g":30,"c":128},{"g":30,"c":130},{"g":30,"c":131},{"g":30,"c":138},{"g":30,"c":138},{"g":30,"c":139},{"g":30,"c":145},{"g":30,"c":146},{"g":30,"c":160},{"g":30,"c":161},{"g":30,"c":165},{"g":30,"c":172},{"g":30,"c":172},{"g":30,"c":173},{"g":30,"c":178},
{"g":31,"c":0},{"g":31,"c":1},{"g":31,"c":3},{"g":31,"c":5},{"g":31,"c":15},{"g":31,"c":16},{"g":31,"c":21},{"g":31,"c":25},{"g":31,"c":27},{"g":31,"c":34},{"g":31,"c":36},{"g":31,"c":38},{"g":31,"c":40},{"g":31,"c":41},{"g":31,"c":45},{"g":31,"c":46},{"g":31,"c":48},{"g":31,"c":51},{"g":31,"c":52},{"g":31,"c":53},{"g":31,"c":55},{"g":31,"c":56},{"g":31,"c":63},{"g":31,"c":64},{"g":31,"c":66},{"g":31,"c":67},{"g":31,"c":68},{"g":31,"c":70},{"g":31,"c":71},{"g":31,"c":72},{"g":31,"c":72},{"g":31,"c":74},{"g":31,"c":75},{"g":31,"c":77},{"g":31,"c":78},{"g":31,"c":79},{"g":31,"c":81},{"g":31,"c":82},{"g":31,"c":83},{"g":31,"c":85},{"g":31,"c":86},{"g":31,"c":87},{"g":31,"c":89},{"g":31,"c":90},{"g":31,"c":92},{"g":31,"c":93},{"g":31,"c":94},{"g":31,"c":94},{"g":31,"c":96},{"g":31,"c":97},{"g":31,"c":100},{"g":31,"c":102},{"g":31,"c":105},{"g":31,"c":107},{"g":31,"c":115},{"g":31,"c":126},{"g":31,"c":127},{"g":31,"c":128},{"g":31,"c":131},{"g":31,"c":135},{"g":31,"c":137},
{"g":32,"c":0},{"g":32,"c":14},{"g":32,"c":15},{"g":32,"c":16},{"g":32,"c":22},{"g":32,"c":27},{"g":32,"c":29},{"g":32,"c":34},{"g":32,"c":36},{"g":32,"c":37},{"g":32,"c":38},{"g":32,"c":46},{"g":32,"c":48},{"g":32,"c":49},{"g":32,"c":51},{"g":32,"c":52},{"g":32,"c":53},{"g":32,"c":55},{"g":32,"c":56},{"g":32,"c":56},{"g":32,"c":57},{"g":32,"c":59},{"g":32,"c":60},{"g":32,"c":61},{"g":32,"c":61},{"g":32,"c":63},{"g":32,"c":64},{"g":32,"c":66},{"g":32,"c":67},{"g":32,"c":68},{"g":32,"c":70},{"g":32,"c":71},{"g":32,"c":75},{"g":32,"c":75},{"g":32,"c":77},{"g":32,"c":78},{"g":32,"c":79},{"g":32,"c":81},{"g":32,"c":82},{"g":32,"c":83},{"g":32,"c":85},{"g":32,"c":87},{"g":32,"c":89},{"g":32,"c":92},{"g":32,"c":96},{"g":32,"c":97},{"g":32,"c":98},{"g":32,"c":100},{"g":32,"c":101},{"g":32,"c":102},{"g":32,"c":104},{"g":32,"c":105},{"g":32,"c":107},{"g":32,"c":108},{"g":32,"c":109},{"g":32,"c":111},{"g":32,"c":112},{"g":32,"c":113},{"g":32,"c":115},{"g":32,"c":116},{"g":32,"c":117},{"g":32,"c":117},{"g":32,"c":119},{"g":32,"c":120},{"g":32,"c":122},{"g":32,"c":123},{"g":32,"c":123},{"g":32,"c":124},{"g":32,"c":126},{"g":32,"c":127},{"g":32,"c":128},{"g":32,"c":130},{"g":32,"c":131},{"g":32,"c":133},{"g":32,"c":134},{"g":32,"c":135},{"g":32,"c":137},{"g":32,"c":138},{"g":32,"c":139},{"g":32,"c":141},{"g":32,"c":142},{"g":32,"c":143},{"g":32,"c":145},{"g":32,"c":146},{"g":32,"c":148},{"g":32,"c":149},{"g":32,"c":150},{"g":32,"c":152},{"g":32,"c":153},{"g":32,"c":156},{"g":32,"c":156},{"g":32,"c":157},{"g":32,"c":161},{"g":32,"c":167},{"g":32,"c":168},{"g":32,"c":172},{"g":32,"c":173},{"g":32,"c":175},{"g":32,"c":182},
{"g":33,"c":0},{"g":33,"c":0},{"g":33,"c":1},{"g":33,"c":12},{"g":33,"c":25},{"g":33,"c":26},{"g":33,"c":30},{"g":33,"c":31},{"g":33,"c":36},{"g":33,"c":38},{"g":33,"c":44},{"g":33,"c":51},{"g":33,"c":52},{"g":33,"c":53},{"g":33,"c":57},{"g":33,"c":61},{"g":33,"c":67},{"g":33,"c":68},{"g":33,"c":71},{"g":33,"c":72},{"g":33,"c":74},{"g":33,"c":75},{"g":33,"c":77},{"g":33,"c":85},{"g":33,"c":86},{"g":33,"c":86},{"g":33,"c":87},{"g":33,"c":100},{"g":33,"c":101},{"g":33,"c":102},{"g":33,"c":104},{"g":33,"c":104},{"g":33,"c":105},{"g":33,"c":107},{"g":33,"c":108},{"g":33,"c":109},{"g":33,"c":111},{"g":33,"c":112},{"g":33,"c":115},{"g":33,"c":116},{"g":33,"c":117},{"g":33,"c":119},{"g":33,"c":120},{"g":33,"c":122},{"g":33,"c":123},{"g":33,"c":124},{"g":33,"c":126},{"g":33,"c":127},{"g":33,"c":128},{"g":33,"c":128},{"g":33,"c":130},{"g":33,"c":133},{"g":33,"c":137},{"g":33,"c":142},{"g":33,"c":145},{"g":33,"c":145},{"g":33,"c":150},{"g":33,"c":153},{"g":33,"c":156},{"g":33,"c":159},{"g":33,"c":165},{"g":33,"c":173},{"g":33,"c":175},{"g":33,"c":176},
{"g":34,"c":0},{"g":34,"c":1},{"g":34,"c":3},{"g":34,"c":4},{"g":34,"c":5},{"g":34,"c":7},{"g":34,"c":8},{"g":34,"c":10},{"g":34,"c":11},{"g":34,"c":12},{"g":34,"c":15},{"g":34,"c":19},{"g":34,"c":22},{"g":34,"c":23},{"g":34,"c":25},{"g":34,"c":26},{"g":34,"c":27},{"g":34,"c":29},{"g":34,"c":30},{"g":34,"c":31},{"g":34,"c":33},{"g":34,"c":34},{"g":34,"c":36},{"g":34,"c":37},{"g":34,"c":38},{"g":34,"c":41},{"g":34,"c":42},{"g":34,"c":44},{"g":34,"c":44},{"g":34,"c":45},{"g":34,"c":46},{"g":34,"c":48},{"g":34,"c":49},{"g":34,"c":52},{"g":34,"c":53},{"g":34,"c":55},{"g":34,"c":55},{"g":34,"c":56},{"g":34,"c":57},{"g":34,"c":59},{"g":34,"c":60},{"g":34,"c":63},{"g":34,"c":66},{"g":34,"c":68},{"g":34,"c":72},{"g":34,"c":74},{"g":34,"c":82},{"g":34,"c":92},{"g":34,"c":96},{"g":34,"c":100},{"g":34,"c":101},{"g":34,"c":104},{"g":34,"c":111},{"g":34,"c":112},{"g":34,"c":116},{"g":34,"c":118},{"g":34,"c":118},
{"g":35,"c":0},{"g":35,"c":1},{"g":35,"c":3},{"g":35,"c":4},{"g":35,"c":5},{"g":35,"c":7},{"g":35,"c":8},{"g":35,"c":10},{"g":35,"c":11},{"g":35,"c":12},{"g":35,"c":14},{"g":35,"c":15},{"g":35,"c":16},{"g":35,"c":18},{"g":35,"c":19},{"g":35,"c":21},{"g":35,"c":22},{"g":35,"c":23},{"g":35,"c":25},{"g":35,"c":26},{"g":35,"c":27},{"g":35,"c":29},{"g":35,"c":30},{"g":35,"c":31},{"g":35,"c":33},{"g":35,"c":34},{"g":35,"c":36},{"g":35,"c":36},{"g":35,"c":37},{"g":35,"c":38},{"g":35,"c":40},{"g":35,"c":41},{"g":35,"c":42},{"g":35,"c":44},{"g":35,"c":45},{"g":35,"c":46},{"g":35,"c":48},{"g":35,"c":49},{"g":35,"c":51},{"g":35,"c":52},{"g":35,"c":53},{"g":35,"c":55},{"g":35,"c":55},{"g":35,"c":56},{"g":35,"c":57},{"g":35,"c":59},{"g":35,"c":60},{"g":35,"c":61},{"g":35,"c":63},{"g":35,"c":64},{"g":35,"c":66},{"g":35,"c":67},{"g":35,"c":68},{"g":35,"c":70},{"g":35,"c":71},{"g":35,"c":72},{"g":35,"c":74},{"g":35,"c":75},{"g":35,"c":77},{"g":35,"c":77},{"g":35,"c":78},{"g":35,"c":79},{"g":35,"c":82},{"g":35,"c":85},{"g":35,"c":86},{"g":35,"c":87},{"g":35,"c":89},{"g":35,"c":90},{"g":35,"c":92},{"g":35,"c":104},{"g":35,"c":116},{"g":35,"c":119},{"g":35,"c":128},{"g":35,"c":138},
{"g":36,"c":0},{"g":36,"c":10},{"g":36,"c":14},{"g":36,"c":18},{"g":36,"c":29},{"g":36,"c":30},{"g":36,"c":31},{"g":36,"c":33},{"g":36,"c":34},{"g":36,"c":36},{"g":36,"c":37},{"g":36,"c":38},{"g":36,"c":40},{"g":36,"c":41},{"g":36,"c":42},{"g":36,"c":44},{"g":36,"c":45},{"g":36,"c":49},{"g":36,"c":51},{"g":36,"c":52},{"g":36,"c":56},{"g":36,"c":57},{"g":36,"c":59},{"g":36,"c":60},{"g":36,"c":60},{"g":36,"c":61},{"g":36,"c":63},{"g":36,"c":64},{"g":36,"c":66},{"g":36,"c":67},{"g":36,"c":68},{"g":36,"c":70},{"g":36,"c":71},{"g":36,"c":72},{"g":36,"c":74},{"g":36,"c":75},{"g":36,"c":77},{"g":36,"c":78},{"g":36,"c":79},{"g":36,"c":81},{"g":36,"c":82},{"g":36,"c":83},{"g":36,"c":86},{"g":36,"c":89},{"g":36,"c":94},{"g":36,"c":96},{"g":36,"c":97},{"g":36,"c":98},{"g":36,"c":100},{"g":36,"c":101},{"g":36,"c":102},{"g":36,"c":104},{"g":36,"c":105},{"g":36,"c":107},{"g":36,"c":108},{"g":36,"c":109},{"g":36,"c":109},{"g":36,"c":111},{"g":36,"c":112},{"g":36,"c":112},{"g":36,"c":113},{"g":36,"c":115},{"g":36,"c":116},{"g":36,"c":117},{"g":36,"c":120},{"g":36,"c":122},{"g":36,"c":123},{"g":36,"c":124},{"g":36,"c":126},{"g":36,"c":127},{"g":36,"c":128},{"g":36,"c":130},{"g":36,"c":134},{"g":36,"c":135},{"g":36,"c":139},{"g":36,"c":153},{"g":36,"c":163},{"g":36,"c":169},{"g":36,"c":171},{"g":36,"c":172},{"g":36,"c":173},{"g":36,"c":175},
{"g":37,"c":0},{"g":37,"c":3},{"g":37,"c":4},{"g":37,"c":7},{"g":37,"c":12},{"g":37,"c":14},{"g":37,"c":15},{"g":37,"c":16},{"g":37,"c":19},{"g":37,"c":21},{"g":37,"c":22},{"g":37,"c":25},{"g":37,"c":26},{"g":37,"c":27},{"g":37,"c":36},{"g":37,"c":41},{"g":37,"c":42},{"g":37,"c":44},{"g":37,"c":45},{"g":37,"c":46},{"g":37,"c":49},{"g":37,"c":51},{"g":37,"c":52},{"g":37,"c":57},{"g":37,"c":59},{"g":37,"c":59},{"g":37,"c":60},{"g":37,"c":61},{"g":37,"c":63},{"g":37,"c":64},{"g":37,"c":66},{"g":37,"c":67},{"g":37,"c":68},{"g":37,"c":70},{"g":37,"c":71},{"g":37,"c":72},{"g":37,"c":74},{"g":37,"c":75},{"g":37,"c":77},{"g":37,"c":78},{"g":37,"c":79},{"g":37,"c":81},{"g":37,"c":82},{"g":37,"c":83},{"g":37,"c":85},{"g":37,"c":86},{"g":37,"c":98},{"g":37,"c":100},{"g":37,"c":107},{"g":37,"c":113},{"g":37,"c":120},{"g":37,"c":122},{"g":37,"c":126},{"g":37,"c":127},{"g":37,"c":134},{"g":37,"c":135},{"g":37,"c":150},{"g":37,"c":152},{"g":37,"c":153},{"g":37,"c":154},{"g":37,"c":156},
{"g":38,"c":0},{"g":38,"c":1},{"g":38,"c":3},{"g":38,"c":4},{"g":38,"c":5},{"g":38,"c":7},{"g":38,"c":10},{"g":38,"c":21},{"g":38,"c":22},{"g":38,"c":26},{"g":38,"c":27},{"g":38,"c":29},{"g":38,"c":30},{"g":38,"c":33},{"g":38,"c":34},{"g":38,"c":36},{"g":38,"c":38},{"g":38,"c":40},{"g":38,"c":40},{"g":38,"c":41},{"g":38,"c":42},{"g":38,"c":44},{"g":38,"c":45},{"g":38,"c":46},{"g":38,"c":48},{"g":38,"c":49},{"g":38,"c":51},{"g":38,"c":51},{"g":38,"c":52},{"g":38,"c":53},{"g":38,"c":55},{"g":38,"c":56},{"g":38,"c":57},{"g":38,"c":59},{"g":38,"c":60},{"g":38,"c":61},{"g":38,"c":63},{"g":38,"c":64},{"g":38,"c":66},{"g":38,"c":67},{"g":38,"c":68},{"g":38,"c":70},{"g":38,"c":71},{"g":38,"c":72},{"g":38,"c":74},{"g":38,"c":74},{"g":38,"c":75},{"g":38,"c":77},{"g":38,"c":78},{"g":38,"c":79},{"g":38,"c":81},{"g":38,"c":82},{"g":38,"c":83},{"g":38,"c":83},{"g":38,"c":85},{"g":38,"c":86},{"g":38,"c":87},{"g":38,"c":87},{"g":38,"c":89},{"g":38,"c":90},{"g":38,"c":92},{"g":38,"c":93},{"g":38,"c":94},{"g":38,"c":96},{"g":38,"c":97},{"g":38,"c":98},{"g":38,"c":100},{"g":38,"c":101},{"g":38,"c":102},{"g":38,"c":104},{"g":38,"c":105},{"g":38,"c":107},{"g":38,"c":108},{"g":38,"c":109},{"g":38,"c":111},{"g":38,"c":112},{"g":38,"c":113},{"g":38,"c":115},{"g":38,"c":116},{"g":38,"c":117},{"g":38,"c":120},{"g":38,"c":122},{"g":38,"c":123},{"g":38,"c":126},{"g":38,"c":128},{"g":38,"c":130},{"g":38,"c":143},{"g":38,"c":144},{"g":38,"c":145},{"g":38,"c":146},{"g":38,"c":148},{"g":38,"c":149},{"g":38,"c":150},{"g":38,"c":152},{"g":38,"c":153},{"g":38,"c":159},{"g":38,"c":161},{"g":38,"c":163},{"g":38,"c":166},{"g":38,"c":173},{"g":38,"c":187},
{"g":39,"c":0},{"g":39,"c":4},{"g":39,"c":19},{"g":39,"c":30},{"g":39,"c":31},{"g":39,"c":33},{"g":39,"c":38},{"g":39,"c":44},{"g":39,"c":45},{"g":39,"c":46},{"g":39,"c":49},{"g":39,"c":52},{"g":39,"c":53},{"g":39,"c":55},{"g":39,"c":56},{"g":39,"c":57},{"g":39,"c":59},{"g":39,"c":60},{"g":39,"c":61},{"g":39,"c":63},{"g":39,"c":64},{"g":39,"c":66},{"g":39,"c":67},{"g":39,"c":67},{"g":39,"c":68},{"g":39,"c":71},{"g":39,"c":72},{"g":39,"c":74},{"g":39,"c":75},{"g":39,"c":77},{"g":39,"c":78},{"g":39,"c":79},{"g":39,"c":81},{"g":39,"c":82},{"g":39,"c":83},{"g":39,"c":83},{"g":39,"c":85},{"g":39,"c":86},{"g":39,"c":87},{"g":39,"c":89},{"g":39,"c":90},{"g":39,"c":92},{"g":39,"c":93},{"g":39,"c":94},{"g":39,"c":96},{"g":39,"c":97},{"g":39,"c":98},{"g":39,"c":101},{"g":39,"c":101},{"g":39,"c":102},{"g":39,"c":104},{"g":39,"c":107},{"g":39,"c":109},{"g":39,"c":112},{"g":39,"c":115},{"g":39,"c":117},{"g":39,"c":119},{"g":39,"c":120},{"g":39,"c":120},{"g":39,"c":122},{"g":39,"c":123},{"g":39,"c":124},{"g":39,"c":126},{"g":39,"c":127},{"g":39,"c":128},{"g":39,"c":131},{"g":39,"c":134},{"g":39,"c":135},{"g":39,"c":137},{"g":39,"c":138},{"g":39,"c":139},{"g":39,"c":141},{"g":39,"c":142},{"g":39,"c":143},{"g":39,"c":143},{"g":39,"c":145},{"g":39,"c":148},{"g":39,"c":150},{"g":39,"c":152},{"g":39,"c":153},{"g":39,"c":154},{"g":39,"c":157},{"g":39,"c":165},{"g":39,"c":171},{"g":39,"c":176},{"g":39,"c":183},{"g":39,"c":187},{"g":39,"c":189},{"g":39,"c":191},
{"g":40,"c":0},{"g":40,"c":3},{"g":40,"c":11},{"g":40,"c":25},{"g":40,"c":38},{"g":40,"c":59},{"g":40,"c":60},{"g":40,"c":61},{"g":40,"c":68},{"g":40,"c":74},{"g":40,"c":75},{"g":40,"c":77},{"g":40,"c":78},{"g":40,"c":79},{"g":40,"c":82},{"g":40,"c":83},{"g":40,"c":85},{"g":40,"c":87},{"g":40,"c":90},{"g":40,"c":93},{"g":40,"c":94},{"g":40,"c":96},{"g":40,"c":97},{"g":40,"c":98},{"g":40,"c":100},{"g":40,"c":101},{"g":40,"c":102},{"g":40,"c":104},{"g":40,"c":105},{"g":40,"c":107},{"g":40,"c":108},{"g":40,"c":109},{"g":40,"c":111},{"g":40,"c":112},{"g":40,"c":113},{"g":40,"c":115},{"g":40,"c":116},{"g":40,"c":116},{"g":40,"c":117},{"g":40,"c":120},{"g":40,"c":126},{"g":40,"c":128},{"g":40,"c":131},{"g":40,"c":134},{"g":40,"c":137},{"g":40,"c":139},{"g":40,"c":142},{"g":40,"c":143},{"g":40,"c":145},{"g":40,"c":148},{"g":40,"c":153},{"g":40,"c":158},{"g":40,"c":167},{"g":40,"c":175},{"g":40,"c":182},{"g":40,"c":183},
{"g":41,"c":0},{"g":41,"c":3},{"g":41,"c":15},{"g":41,"c":19},{"g":41,"c":27},{"g":41,"c":36},{"g":41,"c":37},{"g":41,"c":40},{"g":41,"c":42},{"g":41,"c":44},{"g":41,"c":45},{"g":41,"c":46},{"g":41,"c":48},{"g":41,"c":49},{"g":41,"c":52},{"g":41,"c":56},{"g":41,"c":61},{"g":41,"c":64},{"g":41,"c":67},{"g":41,"c":70},{"g":41,"c":71},{"g":41,"c":72},{"g":41,"c":74},{"g":41,"c":75},{"g":41,"c":77},{"g":41,"c":78},{"g":41,"c":79},{"g":41,"c":82},{"g":41,"c":85},{"g":41,"c":86},{"g":41,"c":92},{"g":41,"c":97},{"g":41,"c":98},{"g":41,"c":100},{"g":41,"c":100},{"g":41,"c":108},{"g":41,"c":115},{"g":41,"c":121},
{"g":42,"c":4},{"g":42,"c":5},{"g":42,"c":6},{"g":42,"c":7},{"g":42,"c":21},{"g":42,"c":27},{"g":42,"c":30},{"g":42,"c":33},{"g":42,"c":36},{"g":42,"c":37},{"g":42,"c":38},{"g":42,"c":42},{"g":42,"c":44},{"g":42,"c":45},{"g":42,"c":46},{"g":42,"c":48},{"g":42,"c":49},{"g":42,"c":49},{"g":42,"c":51},{"g":42,"c":52},{"g":42,"c":57},{"g":42,"c":59},{"g":42,"c":60},{"g":42,"c":60},{"g":42,"c":61},{"g":42,"c":64},{"g":42,"c":66},{"g":42,"c":70},{"g":42,"c":72},{"g":42,"c":75},{"g":42,"c":77},{"g":42,"c":81},{"g":42,"c":82},{"g":42,"c":83},{"g":42,"c":89},{"g":42,"c":90},{"g":42,"c":92},{"g":42,"c":93},{"g":42,"c":94},{"g":42,"c":101},{"g":42,"c":102},{"g":42,"c":104},{"g":42,"c":105},{"g":42,"c":107},{"g":42,"c":108},
{"g":43,"c":0},{"g":43,"c":5},{"g":43,"c":7},{"g":43,"c":8},{"g":43,"c":10},{"g":43,"c":11},{"g":43,"c":12},{"g":43,"c":14},{"g":43,"c":15},{"g":43,"c":16},{"g":43,"c":21},{"g":43,"c":22},{"g":43,"c":23},{"g":43,"c":25},{"g":43,"c":26},{"g":43,"c":27},{"g":43,"c":29},{"g":43,"c":30},{"g":43,"c":31},{"g":43,"c":33},{"g":43,"c":34},{"g":43,"c":36},{"g":43,"c":37},{"g":43,"c":38},{"g":43,"c":40},{"g":43,"c":41},{"g":43,"c":42},{"g":43,"c":44},{"g":43,"c":48},{"g":43,"c":49},{"g":43,"c":52},{"g":43,"c":57},{"g":43,"c":59},{"g":43,"c":60},{"g":43,"c":61},{"g":43,"c":63},{"g":43,"c":64},{"g":43,"c":66},{"g":43,"c":66},{"g":43,"c":67},{"g":43,"c":68},{"g":43,"c":68},{"g":43,"c":70},{"g":43,"c":70},{"g":43,"c":71},{"g":43,"c":72},{"g":43,"c":72},{"g":43,"c":74},{"g":43,"c":74},{"g":43,"c":75},{"g":43,"c":77},{"g":43,"c":78},{"g":43,"c":79},{"g":43,"c":81},{"g":43,"c":82},{"g":43,"c":83},{"g":43,"c":85},{"g":43,"c":86},{"g":43,"c":87},{"g":43,"c":89},{"g":43,"c":90},{"g":43,"c":93},{"g":43,"c":94},{"g":43,"c":96},{"g":43,"c":97},{"g":43,"c":98},{"g":43,"c":100},{"g":43,"c":100},{"g":43,"c":101},{"g":43,"c":102},{"g":43,"c":104},{"g":43,"c":104},{"g":43,"c":105},{"g":43,"c":107},{"g":43,"c":108},{"g":43,"c":108},{"g":43,"c":109},{"g":43,"c":111},{"g":43,"c":112},{"g":43,"c":112},{"g":43,"c":113},{"g":43,"c":115},{"g":43,"c":116},{"g":43,"c":116},{"g":43,"c":117},{"g":43,"c":119},{"g":43,"c":120},{"g":43,"c":120},{"g":43,"c":122},{"g":43,"c":123},{"g":43,"c":124},{"g":43,"c":126},{"g":43,"c":127},{"g":43,"c":128},{"g":43,"c":130},{"g":43,"c":131},
{"g":44,"c":0},{"g":44,"c":4},{"g":44,"c":12},{"g":44,"c":18},{"g":44,"c":19},{"g":44,"c":21},{"g":44,"c":26},{"g":44,"c":27},{"g":44,"c":42},{"g":44,"c":44},{"g":44,"c":49},{"g":44,"c":51},{"g":44,"c":52},{"g":44,"c":53},{"g":44,"c":55},{"g":44,"c":56},{"g":44,"c":57},{"g":44,"c":59},{"g":44,"c":60},{"g":44,"c":61},{"g":44,"c":63},{"g":44,"c":64},{"g":44,"c":66},{"g":44,"c":74},{"g":44,"c":75},{"g":44,"c":77},{"g":44,"c":78},{"g":44,"c":79},{"g":44,"c":82},{"g":44,"c":87},{"g":44,"c":89},{"g":44,"c":90},{"g":44,"c":92},{"g":44,"c":93},{"g":44,"c":96},{"g":44,"c":97},{"g":44,"c":98},{"g":44,"c":100},{"g":44,"c":102},{"g":44,"c":105},{"g":44,"c":107},{"g":44,"c":108},{"g":44,"c":109},{"g":44,"c":111},{"g":44,"c":112},{"g":44,"c":113},{"g":44,"c":115},{"g":44,"c":116},{"g":44,"c":117},{"g":44,"c":119},{"g":44,"c":120},{"g":44,"c":122},{"g":44,"c":123},{"g":44,"c":131},{"g":44,"c":133},{"g":44,"c":141},{"g":44,"c":149},{"g":44,"c":150},{"g":44,"c":152},{"g":44,"c":153},{"g":44,"c":153},{"g":44,"c":154},{"g":44,"c":156},{"g":44,"c":156},{"g":44,"c":157},{"g":44,"c":158},{"g":44,"c":158},{"g":44,"c":160},{"g":44,"c":160},{"g":44,"c":161},{"g":44,"c":161},{"g":44,"c":163},{"g":44,"c":164},{"g":44,"c":164},{"g":44,"c":165},{"g":44,"c":167},{"g":44,"c":168},{"g":44,"c":169}
]},
"encoding":{
"x":{"field":"g","type":"quantitative","scale":{"domain":[0.45,44.5],"nice":false,"zero":false},"axis":{"values":[1,2,3,4,5,6,7,8,9,10,11,12,13,14,15,16,17,18,19,20,21,22,23,24,25,26,27,28,29,30,31,32,33,34,35,36,37,38,39,40,41,42,43,44],"title":"Linkage Group","tickSize":3,"labelPadding":3,"labelFlush":false,"labelOverlap":false,"titleY":18,"titleBaseline":"middle"}},
"y":{"field":"c","type":"quantitative","scale":{"domain":[-7.8,207.8],"reverse":true,"nice":false,"zero":false},"axis":{"values":[0,50,100,150,200],"title":"Location (cM)","tickSize":3.5,"labelPadding":1.5,"titleX":-19,"titleY":131.5,"titleBaseline":"middle"}}
},
"layer":[
{"transform":[{"aggregate":[{"op":"min","field":"c","as":"lo"},{"op":"max","field":"c","as":"hi"}],"groupby":["g"]}],
 "mark":{"type":"rule","color":"#8f8f8f","strokeWidth":1},
 "encoding":{"y":{"field":"lo","type":"quantitative","title":"Location (cM)"},"y2":{"field":"hi"}}},
{"mark":{"type":"tick","orient":"horizontal","size":9,"thickness":1,"color":"#000","opacity":0.6}}
],
"config":{"view":{"stroke":"#8a8a8a","strokeWidth":1},"axis":{"grid":false,"domain":false,"labelFont":"Liberation Sans","titleFont":"Liberation Sans","labelColor":"#333","titleColor":"#222","tickColor":"#777","titleFontWeight":"normal","labelFontSize":5.5,"titleFontSize":6.5}}
}
